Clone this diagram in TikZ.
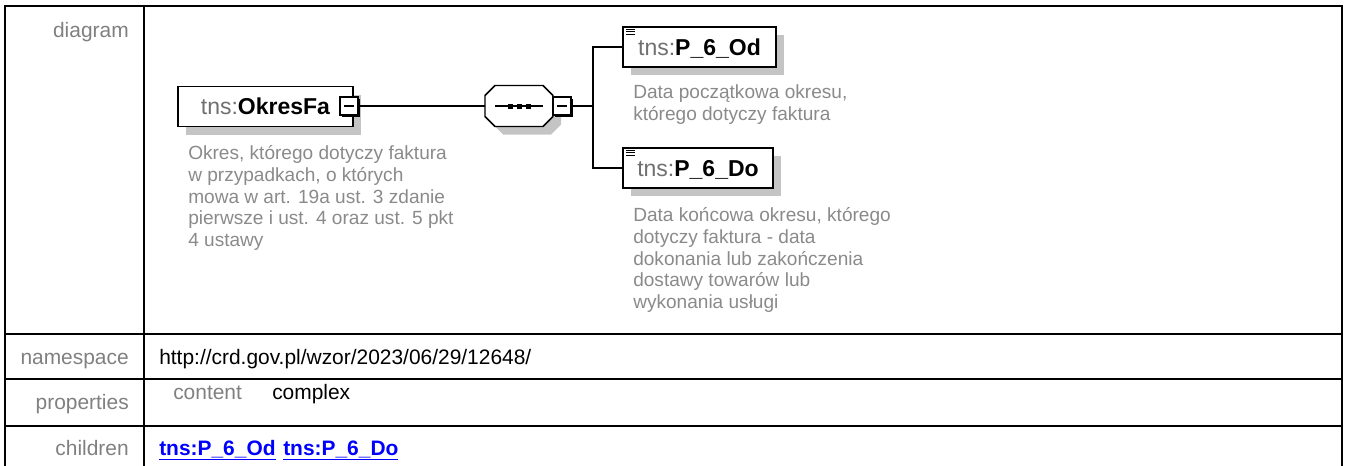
\documentclass[tikz,border=0pt]{standalone}
\usepackage{fontspec}
\setmainfont{Liberation Sans}
\usetikzlibrary{shadows,calc}
\definecolor{labgray}{HTML}{808080}
\definecolor{descgray}{HTML}{8A8A8A}
\definecolor{pfxgray}{HTML}{707070}
\definecolor{shgray}{HTML}{C4C4C4}
\definecolor{linkblue}{HTML}{0000FF}
\begin{document}
\begin{tikzpicture}[x=0.75pt,y=-0.75pt,
  tbl/.style={line width=1.5pt},
  lab/.style={anchor=base east, inner sep=0pt, text=labgray, font=\fontsize{15.7}{18}\selectfont},
  val/.style={anchor=base west, inner sep=0pt, font=\fontsize{15.7}{18}\selectfont},
  linkval/.style={val, text=linkblue, font=\fontsize{15.7}{18}\selectfont\bfseries},
  elem/.style={draw, line width=1.3pt, fill=white, minimum height=30pt, inner sep=0pt,
    text height=12.4pt, text depth=0pt, font=\fontsize{17.25}{20}\selectfont,
    general shadow={fill=shgray, shadow xshift=6pt, shadow yshift=-6pt}},
  minusbox/.style={draw, line width=0.8pt, fill=white, minimum size=13.5pt, inner sep=0pt,
    general shadow={fill=black, shadow xshift=1.8pt, shadow yshift=-1.8pt}},
  desc/.style={anchor=base west, inner sep=0pt, align=left, text=descgray,
    font=\fontsize{14.3}{16.3}\selectfont},
  conn/.style={line width=1.1pt},
  octo/.style={line width=1.1pt},
  icon/.style={line width=0.8pt},
]
\useasboundingbox (0,0) rectangle (1346,465);

% table frame
\draw[tbl] (5,470) -- (5,5.5) -- (1341.5,5.5) -- (1341.5,470);
\draw[tbl] (144,5.5) -- (144,470);
\foreach \yy in {333.5,379,426} \draw[tbl] (5,\yy) -- (1341.5,\yy);

% table texts
\node[lab] (ldiag) at (129,37) {diagram};
\node[lab] (lns) at (129,364) {namespace};
\node[val] (vns) at (159,364) {http://crd.gov.pl/wzor/2023/06/29/12648/};
\node[lab] (lprop) at (129,409) {properties};
\node[val, text=labgray] (vcontent) at (173,399) {content};
\node[val] (vcomplex) at (272,399) {complex};
\node[lab] (lchild) at (129,455) {children};
\node[linkval] (c1) at (159,455) {\underline{tns:P\_6\_Od}};
\node[linkval] (c2) at (283,455) {\underline{tns:P\_6\_Do}};

% diagram: root element
\node[elem, minimum width=131.25pt] (okres) at (265.5,106.5) {\textcolor{pfxgray}{tns:}\textbf{OkresFa}};
\node[minusbox] (m1) at (349,106) {};
\draw[line width=0.8pt] ($(m1.center)+(-5,0)$) -- ($(m1.center)+(5,0)$);

% sequence compositor
\node[minimum width=51pt, minimum height=30.75pt, inner sep=0pt] (seq) at (519,106) {};
\fill[shgray] (503,93.5) -- (551,93.5) -- (561,103.5) -- (561,124.5) -- (551,134.5) -- (503,134.5) -- (493,124.5) -- (493,103.5) -- cycle;
\draw[octo, fill=white] (495,85.5) -- (543,85.5) -- (553,95.5) -- (553,116.5) -- (543,126.5) -- (495,126.5) -- (485,116.5) -- (485,95.5) -- cycle;
\draw[line width=0.9pt] (495,106) -- (543,106);
\foreach \xx in {510,519,528} \fill (\xx-2.5,103.5) rectangle (\xx+2.5,108.5);
\node[minusbox] (m2) at (562,106) {};
\draw[line width=0.8pt] ($(m2.center)+(-5,0)$) -- ($(m2.center)+(5,0)$);

% children elements
\node[elem, minimum width=114.75pt] (od) at (699.5,47) {\textcolor{pfxgray}{tns:}\textbf{P\_6\_Od}};
\node[elem, minimum width=112.5pt] (do) at (698,168) {\textcolor{pfxgray}{tns:}\textbf{P\_6\_Do}};
\foreach \dy in {3,5.5,8} {
  \draw[icon] ($(od.north west)+(4,\dy)$) -- ++(9,0);
  \draw[icon] ($(do.north west)+(4,\dy)$) -- ++(9,0);
}

% connectors
\coordinate (j) at (593,106);
\draw[conn] (m1.east) -- (seq.west);
\draw[conn] (m2.east) -- (j);
\draw[conn] (j) |- (od.west);
\draw[conn] (j) |- (do.west);

% descriptions (anchored at the baseline of their last line)
\node[desc] (okresdesc) at (188,246.5) {Okres, którego dotyczy faktura\\w przypadkach, o których\\mowa w art. 19a ust. 3 zdanie\\pierwsze i ust. 4 oraz ust. 5 pkt\\4 ustawy};
\node[desc] (oddesc) at (633,120.5) {Data początkowa okresu,\\którego dotyczy faktura};
\node[desc] (dodesc) at (633,308.5) {Data końcowa okresu, którego\\dotyczy faktura - data\\dokonania lub zakończenia\\dostawy towarów lub\\wykonania usługi};
\end{tikzpicture}
\end{document}
